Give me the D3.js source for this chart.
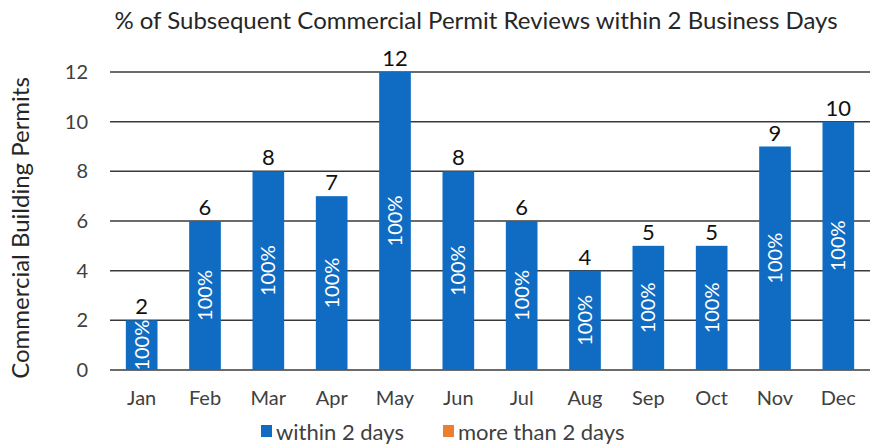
<!DOCTYPE html>
<html>
<head>
<meta charset="utf-8">
<script src="https://cdn.jsdelivr.net/npm/d3@7"></script>
<style>
  body { margin: 0; background: #fff; }
  svg text { font-family: Lato, "Open Sans", sans-serif; }
</style>
</head>
<body>
<div class="graph-container"></div>
<script>
// chart data
var months = ['Jan', 'Feb', 'Mar', 'Apr', 'May', 'Jun', 'Jul', 'Aug', 'Sep', 'Oct', 'Nov', 'Dec'];
var withinTwoDays = [2, 6, 8, 7, 12, 8, 6, 4, 5, 5, 9, 10];
var moreThanTwoDays = [0, 0, 0, 0, 0, 0, 0, 0, 0, 0, 0, 0];
var pctLabels = ['100%', '100%', '100%', '100%', '100%', '100%', '100%', '100%', '100%', '100%', '100%', '100%'];
var yTicks = [0, 2, 4, 6, 8, 10, 12];
var seriesNames = ['within 2 days', 'more than 2 days'];

var svgWidth = 874;
var svgHeight = 444;
var plotLeft = 110;
var plotRight = 870;
var plotTop = 72;
var plotBottom = 370;

var blue = '#0f6cc2';
var orange = '#ed7d31';

var svg = d3.select('.graph-container').append('svg')
  .attr('width', svgWidth)
  .attr('height', svgHeight);

var xScale = d3.scaleBand()
  .domain(months)
  .range([plotLeft, plotRight])
  .paddingInner(0.5)
  .paddingOuter(0.25);

var yScale = d3.scaleLinear()
  .domain([0, 12])
  .range([plotBottom, plotTop]);

// gridlines
svg.selectAll('.grid')
  .data(yTicks)
  .enter()
  .append('line')
  .attr('x1', plotLeft)
  .attr('x2', plotRight)
  .attr('y1', function(d) { return yScale(d); })
  .attr('y2', function(d) { return yScale(d); })
  .attr('stroke', '#3a3a3a')
  .attr('stroke-width', 1.5);

// y axis tick labels
var yAxis = d3.axisLeft(yScale).tickValues(yTicks).tickSize(0).tickPadding(0);
var yAxisG = svg.append('g')
  .attr('transform', 'translate(' + (plotLeft - 22) + ',0)')
  .call(yAxis);
yAxisG.select('.domain').remove();
yAxisG.selectAll('text')
  .style('font-size', '20px')
  .style('font-family', 'Lato, sans-serif')
  .attr('fill', '#404040');

// x axis labels
var xAxis = d3.axisBottom(xScale).tickSize(0).tickPadding(0);
var xAxisG = svg.append('g')
  .attr('transform', 'translate(0,' + (plotBottom + 21) + ')')
  .call(xAxis);
xAxisG.select('.domain').remove();
xAxisG.selectAll('text')
  .style('font-size', '20px')
  .style('font-family', 'Lato, sans-serif')
  .attr('fill', '#404040');

// bars
svg.selectAll('.bar')
  .data(withinTwoDays)
  .enter()
  .append('rect')
  .attr('x', function(d, i) { return xScale(months[i]); })
  .attr('y', function(d) { return yScale(d); })
  .attr('width', xScale.bandwidth())
  .attr('height', function(d) { return plotBottom - yScale(d); })
  .attr('fill', blue);

// value labels above bars
svg.selectAll('.value-label')
  .data(withinTwoDays)
  .enter()
  .append('text')
  .attr('x', function(d, i) { return xScale(months[i]) + xScale.bandwidth() / 2; })
  .attr('y', function(d) { return yScale(d) - 6; })
  .style('text-anchor', 'middle')
  .style('font-size', '22px')
  .attr('fill', '#111')
  .text(function(d) { return d; });

// rotated percentage labels inside bars
svg.selectAll('.pct-label')
  .data(withinTwoDays)
  .enter()
  .append('text')
  .attr('transform', function(d, i) {
    var cx = xScale(months[i]) + xScale.bandwidth() / 2;
    var cy = (yScale(d) + plotBottom) / 2;
    return 'translate(' + cx + ',' + cy + ') rotate(-90)';
  })
  .attr('dy', '0.35em')
  .style('text-anchor', 'middle')
  .style('font-size', '20px')
  .attr('fill', '#fff')
  .text(function(d, i) { return pctLabels[i]; });

// title
svg.append('text')
  .attr('x', 476)
  .attr('y', 29)
  .style('text-anchor', 'middle')
  .style('font-size', '24px')
  .attr('fill', '#262626')
  .text('% of Subsequent Commercial Permit Reviews within 2 Business Days');

// y axis title
svg.append('text')
  .attr('transform', 'translate(29,' + 228 + ') rotate(-90)')
  .style('text-anchor', 'middle')
  .style('font-size', '24px')
  .attr('fill', '#262626')
  .text('Commercial Building Permits');

// legend
var legend = svg.append('g');
var legendX = [261, 443];
var legendColors = [blue, orange];

legend.selectAll('rect')
  .data(seriesNames)
  .enter()
  .append('rect')
  .attr('x', function(d, i) { return legendX[i]; })
  .attr('y', 425)
  .attr('width', 11)
  .attr('height', 12)
  .attr('fill', function(d, i) { return legendColors[i]; });

legend.selectAll('text')
  .data(seriesNames)
  .enter()
  .append('text')
  .attr('x', function(d, i) { return legendX[i] + 15; })
  .attr('y', 440)
  .style('font-size', '22px')
  .attr('fill', '#404040')
  .text(function(d) { return d; });
</script>
</body>
</html>
